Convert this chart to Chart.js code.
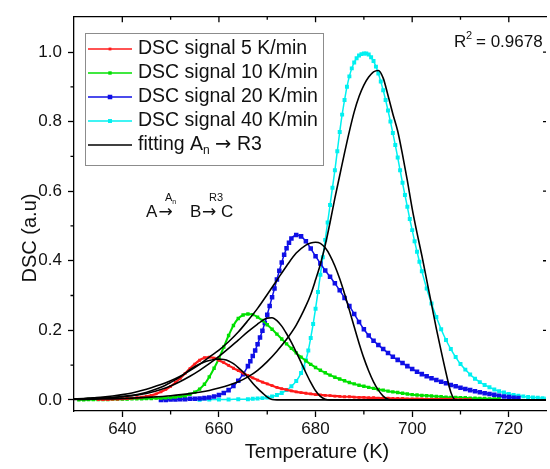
<!DOCTYPE html>
<html>
<head>
<meta charset="utf-8">
<script src="https://cdn.jsdelivr.net/npm/chart.js@4.4.1/dist/chart.umd.min.js"></script>
<style>
  html, body { margin: 0; padding: 0; background: #fff; }
  canvas { display: block; }
</style>
</head>
<body>
<canvas id="dscChart" width="550" height="469"></canvas>
<script>
const FONT = "'Liberation Sans', Arial, sans-serif";
const ARROW_FONT = "'DejaVu Sans', sans-serif";

// axis setup
const xMin = 630, xMax = 727.7;
const yMin = -0.032, yMax = 1.103;
const xTickValues = [640, 660, 680, 700, 720];
const xMinorTicks = [650, 670, 690, 710];
const yTickValues = [0, 0.2, 0.4, 0.6, 0.8, 1.0];
const yMinorTicks = [0.1, 0.3, 0.5, 0.7, 0.9];
const xTitle = "Temperature (K)";
const yTitle = "DSC (a.u)";

const legendLabels = ["DSC signal 5 K/min", "DSC signal 10 K/min", "DSC signal 20 K/min", "DSC signal 40 K/min", "fitting A_n \u2192 R3"];

// measured DSC signals
const redT = [635,636,637,638,639,640,641,642,643,644,645,646,647,648,649,650,651,652,653,654,655,656,657,658,659,660,661,662,663,664,665,666,667,668,669,670,671,672,673,674,675,676,677,678,679,680,681,682,683,684,685,686,687,688,689,690,691,692,693,694,695,696,697,698,699,700,701,702,703,704,705,706,707,708,709,710,711,712];
const redY = [0.001,0.001,0.001,0.002,0.002,0.003,0.004,0.005,0.006,0.008,0.010,0.013,0.017,0.023,0.030,0.039,0.050,0.062,0.076,0.090,0.103,0.114,0.121,0.123,0.120,0.114,0.107,0.099,0.091,0.084,0.077,0.070,0.063,0.057,0.051,0.046,0.041,0.036,0.032,0.029,0.026,0.023,0.021,0.019,0.017,0.015,0.014,0.013,0.012,0.011,0.010,0.009,0.009,0.008,0.007,0.007,0.006,0.006,0.005,0.005,0.005,0.004,0.004,0.004,0.003,0.003,0.003,0.003,0.002,0.002,0.002,0.002,0.002,0.002,0.001,0.001,0.001,0.001];

const greenT = [631,632,633,634,635,636,637,638,639,640,641,642,643,644,645,646,647,648,649,650,651,652,653,654,655,656,657,658,659,660,661,662,663,664,665,666,667,668,669,670,671,672,673,674,675,676,677,678,679,680,681,682,683,684,685,686,687,688,689,690,691,692,693,694,695,696,697,698,699,700,701,702,703,704,705,706,707,708,709,710,711,712,713,714,715,716,717,718];
const greenY = [0.000,0.000,0.001,0.001,0.001,0.001,0.001,0.002,0.002,0.002,0.002,0.003,0.003,0.003,0.004,0.004,0.005,0.005,0.006,0.007,0.008,0.010,0.012,0.016,0.022,0.031,0.045,0.066,0.091,0.119,0.152,0.185,0.214,0.234,0.244,0.247,0.245,0.238,0.228,0.216,0.203,0.189,0.175,0.161,0.148,0.135,0.123,0.112,0.102,0.093,0.085,0.078,0.071,0.065,0.060,0.055,0.050,0.046,0.042,0.039,0.036,0.033,0.030,0.028,0.025,0.023,0.021,0.019,0.017,0.015,0.014,0.013,0.012,0.011,0.010,0.009,0.008,0.007,0.007,0.006,0.006,0.005,0.005,0.004,0.004,0.003,0.003,0.003];

const blueT = [648,649,650,651,652,653,654,655,656,657,658,659,660,661,662,663,664,665,666,666.5,667,667.5,668,668.5,669,669.5,670,670.5,671,671.5,672,672.5,673,673.5,674,674.5,675,676,677,678,679,680,681,682,683,684,685,686,687,688,689,690,691,692,693,694,695,696,697,698,699,700,701,702,703,704,705,706,707,708,709,710,711,712,713,714,715,716,717,718,719,720,721,722];
const blueY = [0.000,0.000,0.001,0.001,0.002,0.002,0.003,0.003,0.004,0.005,0.007,0.010,0.014,0.020,0.028,0.040,0.055,0.074,0.097,0.111,0.126,0.142,0.160,0.179,0.199,0.221,0.245,0.270,0.295,0.320,0.346,0.371,0.395,0.417,0.436,0.452,0.464,0.474,0.470,0.456,0.435,0.413,0.392,0.372,0.354,0.335,0.315,0.293,0.270,0.247,0.224,0.203,0.185,0.170,0.158,0.146,0.135,0.124,0.115,0.106,0.097,0.089,0.081,0.074,0.068,0.062,0.057,0.052,0.048,0.043,0.039,0.035,0.031,0.028,0.025,0.022,0.019,0.017,0.015,0.012,0.010,0.008,0.006,0.005];

const cyanT = [656,658,660,662,664,666,667,668,669,670,671,672,673,674,675,676,677,677.5,678,678.5,679,679.5,680,680.5,681,681.5,682,682.5,683,683.5,684,684.5,685,685.5,686,686.5,687,687.5,688,688.5,689,689.5,690,690.5,691,691.5,692,692.5,693,693.5,694,694.5,695,695.5,696,696.5,697,697.5,698,698.5,699,699.5,700,700.5,701,701.5,702,703,704,705,706,707,708,709,710,711,712,713,714,715,716,717,718,719,720,721,722,723,724,725,726,727,728];
const cyanY = [0.000,0.001,0.001,0.001,0.002,0.002,0.003,0.004,0.005,0.007,0.010,0.014,0.020,0.028,0.039,0.054,0.077,0.094,0.114,0.142,0.178,0.218,0.262,0.310,0.360,0.410,0.460,0.510,0.560,0.610,0.660,0.715,0.770,0.820,0.862,0.900,0.930,0.953,0.970,0.982,0.990,0.994,0.996,0.996,0.993,0.985,0.974,0.958,0.938,0.915,0.890,0.862,0.832,0.800,0.767,0.733,0.697,0.660,0.624,0.589,0.555,0.520,0.488,0.456,0.426,0.397,0.370,0.320,0.277,0.238,0.203,0.172,0.146,0.123,0.103,0.087,0.073,0.061,0.051,0.043,0.036,0.030,0.025,0.021,0.017,0.014,0.012,0.010,0.008,0.007,0.006,0.005,0.004];

// An -> R3 fits
const fit5T = [630,632,634,636,638,640,642,644,646,648,650,652,654,656,657,658,659,660,661,662,663,664,665,666,667,668,669,670,671,672,690,710,728];
const fit5Y = [0.002,0.003,0.004,0.005,0.007,0.010,0.013,0.018,0.026,0.036,0.050,0.066,0.087,0.103,0.109,0.113,0.116,0.117,0.116,0.112,0.104,0.093,0.080,0.065,0.048,0.033,0.020,0.008,0.001,0,0,0,0];

const fit10T = [630,632,634,636,638,640,642,644,646,648,650,652,654,656,658,660,662,664,666,668,669,670,671,672,673,674,675,676,677,678,679,680,681,682,683,700,728];
const fit10Y = [0.002,0.003,0.004,0.005,0.007,0.009,0.012,0.016,0.022,0.030,0.040,0.053,0.068,0.085,0.104,0.125,0.148,0.172,0.196,0.218,0.228,0.235,0.236,0.228,0.212,0.190,0.165,0.137,0.108,0.078,0.050,0.026,0.010,0.002,0,0,0];

const fit20T = [630,632,634,636,638,640,642,644,646,648,650,652,654,656,658,660,662,664,666,668,670,672,674,676,678,679,680,681,682,683,684,685,686,687,688,689,690,691,692,693,694,695,696,710,728];
const fit20Y = [0.003,0.004,0.006,0.008,0.011,0.015,0.020,0.027,0.035,0.044,0.055,0.068,0.084,0.102,0.123,0.143,0.167,0.195,0.228,0.263,0.303,0.344,0.385,0.422,0.445,0.451,0.453,0.450,0.437,0.415,0.385,0.348,0.305,0.258,0.210,0.163,0.120,0.083,0.052,0.028,0.011,0.002,0,0,0];

const fit40T = [630,634,638,642,646,650,654,658,660,662,664,666,668,670,672,674,676,678,679,680,681,682,683,684,685,686,687,688,689,690,691,692,693,694,695,696,697,698,699,700,701,702,703,704,705,706,707,708,709,720,728];
const fit40Y = [0.001,0.002,0.003,0.005,0.008,0.012,0.018,0.027,0.034,0.042,0.052,0.066,0.085,0.110,0.140,0.174,0.215,0.270,0.303,0.345,0.390,0.445,0.510,0.580,0.645,0.710,0.772,0.828,0.872,0.905,0.928,0.943,0.947,0.925,0.875,0.822,0.773,0.705,0.630,0.550,0.480,0.415,0.345,0.275,0.205,0.140,0.078,0.022,0,0,0];

function toPoints(ts, ys) {
    return ts.map((t, i) => ({ x: t, y: ys[i] }));
}

function signal(label, ts, ys, color, radius, width) {
    return {
        label: label,
        data: toPoints(ts, ys),
        borderColor: color,
        backgroundColor: color,
        borderWidth: width,
        pointStyle: "rect",
        pointRadius: radius,
        pointBorderWidth: 0,
        pointBackgroundColor: color,
        cubicInterpolationMode: "monotone",
        order: 1
    };
}

function fitting(label, ts, ys) {
    return {
        label: label,
        data: toPoints(ts, ys),
        borderColor: "#000",
        backgroundColor: "#000",
        borderWidth: 1.6,
        pointRadius: 0,
        cubicInterpolationMode: "monotone",
        order: 0
    };
}

// draws text pieces one after another: "n" normal, "sub" subscript, "arrow" arrow glyph
function drawPieces(ctx, parts, x, y, size) {
    parts.forEach(([txt, kind]) => {
        if (kind === "sub") {
            ctx.font = `${Math.round(size * 0.62)}px ${FONT}`;
            ctx.fillText(txt, x, y + size * 0.28);
        } else if (kind === "arrow") {
            ctx.font = `${size}px ${ARROW_FONT}`;
            ctx.fillText(txt, x, y);
        } else {
            ctx.font = `${size}px ${FONT}`;
            ctx.fillText(txt, x, y);
        }
        x += ctx.measureText(txt).width;
    });
}

const decorations = {
    id: "decorations",
    afterDraw(chart) {
        const { ctx, chartArea: area } = chart;
        const x = chart.scales.x, y = chart.scales.y;
        ctx.save();

        // minor ticks and mirrored ticks
        ctx.strokeStyle = "#000";
        ctx.lineWidth = 1.3;
        ctx.beginPath();
        xMinorTicks.forEach(v => {
            const px = x.getPixelForValue(v);
            ctx.moveTo(px, area.bottom); ctx.lineTo(px, area.bottom + 3.5);
            ctx.moveTo(px, area.top); ctx.lineTo(px, area.top + 3.5);
        });
        xTickValues.forEach(v => {
            const px = x.getPixelForValue(v);
            ctx.moveTo(px, area.top); ctx.lineTo(px, area.top + 6);
        });
        yMinorTicks.forEach(v => {
            const py = y.getPixelForValue(v);
            ctx.moveTo(area.left, py); ctx.lineTo(area.left - 3.5, py);
        });
        yTickValues.forEach(v => {
            const py = y.getPixelForValue(v);
            ctx.moveTo(area.right, py); ctx.lineTo(area.right - 3, py);
        });
        ctx.stroke();

        // axis titles
        ctx.fillStyle = "#111";
        ctx.font = `20px ${FONT}`;
        ctx.textAlign = "center";
        ctx.textBaseline = "middle";
        ctx.fillText(xTitle, 317, 452);
        ctx.save();
        ctx.translate(30, 238);
        ctx.rotate(-Math.PI / 2);
        ctx.fillText(yTitle, 0, 0);
        ctx.restore();

        // legend box
        ctx.fillStyle = "#fff";
        ctx.fillRect(85, 33, 238, 132);
        ctx.strokeStyle = "#8c8c8c";
        ctx.lineWidth = 1;
        ctx.strokeRect(85.5, 33.5, 238, 132);
        ctx.textAlign = "left";
        ctx.textBaseline = "middle";
        legendLabels.forEach((label, i) => {
            const ds = chart.data.datasets[i];
            const cy = 49 + i * 24;
            ctx.strokeStyle = ds.borderColor;
            ctx.lineWidth = 1.6;
            ctx.beginPath();
            ctx.moveTo(88, cy);
            ctx.lineTo(132, cy);
            ctx.stroke();
            if (ds.pointRadius > 0) {
                const s = ds.pointRadius * Math.SQRT2;
                ctx.fillStyle = ds.borderColor;
                ctx.fillRect(110 - s / 2, cy - s / 2, s, s);
            }
            ctx.fillStyle = "#111";
            if (label.includes("_n")) {
                const [a, b] = label.split("_n");
                const [pre, post] = b.split("\u2192");
                drawPieces(ctx, [[a, "n"], ["n", "sub"], [pre, "n"], ["\u2192", "arrow"], [post, "n"]], 138, cy, 19.5);
            } else {
                ctx.font = `19.5px ${FONT}`;
                ctx.fillText(label, 138, cy);
            }
        });

        // reaction scheme
        ctx.fillStyle = "#111";
        ctx.textBaseline = "alphabetic";
        ctx.font = `17px ${FONT}`;
        ctx.fillText("A", 146, 217);
        ctx.fillText("B", 190, 217);
        ctx.fillText("C", 221, 217);
        ctx.font = `17px ${ARROW_FONT}`;
        ctx.fillText("\u2192", 158.5, 217);
        ctx.fillText("\u2192", 202, 217);
        drawPieces(ctx, [["A", "n"], ["n", "sub"]], 165, 201, 11);
        ctx.font = `11px ${FONT}`;
        ctx.fillText("R3", 209, 201);

        // R^2
        ctx.font = `17px ${FONT}`;
        ctx.fillText("R", 454, 47);
        ctx.font = `11px ${FONT}`;
        ctx.fillText("2", 466, 39);
        ctx.font = `17px ${FONT}`;
        ctx.fillText("= 0.9678", 476, 47);

        ctx.restore();
    }
};

new Chart(document.getElementById("dscChart"), {
    type: "line",
    data: {
        datasets: [
            signal(legendLabels[0], redT, redY, "#ff1a1a", 2.0, 2.2),
            signal(legendLabels[1], greenT, greenY, "#00e000", 2.4, 2.0),
            signal(legendLabels[2], blueT, blueY, "#0f0fe6", 3.2, 1.5),
            signal(legendLabels[3], cyanT, cyanY, "#00f0f0", 2.8, 1.5),
            fitting(legendLabels[4], fit5T, fit5Y),
            fitting("fit 10", fit10T, fit10Y),
            fitting("fit 20", fit20T, fit20Y),
            fitting("fit 40", fit40T, fit40Y)
        ]
    },
    options: {
        responsive: false,
        animation: false,
        events: [],
        layout: { padding: 0 },
        plugins: {
            legend: { display: false },
            tooltip: { enabled: false }
        },
        scales: {
            x: {
                type: "linear",
                position: "bottom",
                min: xMin,
                max: xMax,
                afterFit: s => { s.height = 58; },
                afterBuildTicks: s => { s.ticks = xTickValues.map(v => ({ value: v })); },
                grid: { drawOnChartArea: false, drawTicks: true, tickLength: 6, tickWidth: 1.3, tickColor: "#000" },
                border: { display: true, color: "#000", width: 1.3 },
                ticks: { font: { family: FONT, size: 17 }, color: "#111", padding: 2, maxRotation: 0, callback: v => String(v) }
            },
            xTop: {
                type: "linear",
                axis: "x",
                position: "top",
                min: xMin,
                max: xMax,
                afterFit: s => { s.height = 16; },
                grid: { display: false },
                border: { display: true, color: "#000", width: 1.3 },
                ticks: { display: false }
            },
            y: {
                type: "linear",
                min: yMin,
                max: yMax,
                afterFit: s => { s.width = 74; },
                afterBuildTicks: s => { s.ticks = yTickValues.map(v => ({ value: v })); },
                grid: { drawOnChartArea: false, drawTicks: true, tickLength: 6, tickWidth: 1.3, tickColor: "#000" },
                border: { display: true, color: "#000", width: 1.3 },
                ticks: { font: { family: FONT, size: 17 }, color: "#111", padding: 6, callback: v => v.toFixed(1) }
            }
        }
    },
    plugins: [decorations]
});
</script>
</body>
</html>
